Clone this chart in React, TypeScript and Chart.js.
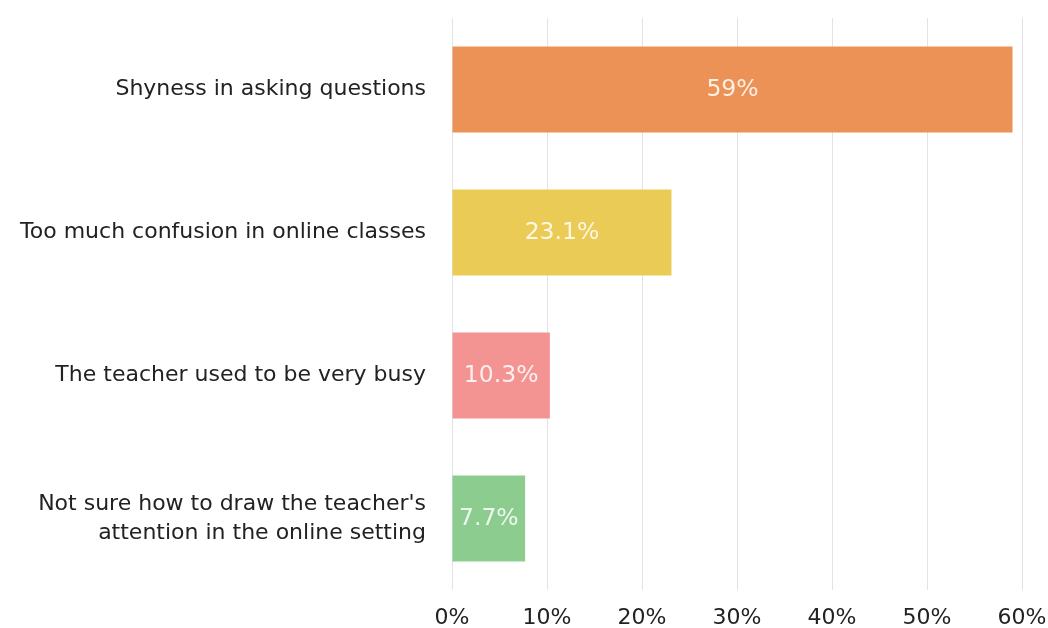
import React, { useEffect, useRef } from "react";
import { Chart, registerables } from "chart.js";

Chart.register(...registerables);

const categories: (string | string[])[] = [
  "Shyness in asking questions",
  "Too much confusion in online classes",
  "The teacher used to be very busy",
  ["Not sure how to draw the teacher's", "attention in the online setting"],
];
const values = [59, 23.1, 10.3, 7.7];
const valueLabels = ["59%", "23.1%", "10.3%", "7.7%"];
const barColors = ["#EC9256", "#E9CB55", "#F39392", "#8CCC8E"];
const xTicks = [0, 10, 20, 30, 40, 50, 60];

const FONT = "'DejaVu Sans', sans-serif";

const valueLabelPlugin = {
  id: "valueLabels",
  afterDatasetsDraw(chart: any) {
    const ctx = chart.ctx;
    const meta = chart.getDatasetMeta(0);
    ctx.save();
    ctx.font = `23.5px ${FONT}`;
    ctx.fillStyle = "rgba(255,255,255,0.85)";
    ctx.textAlign = "center";
    ctx.textBaseline = "middle";
    meta.data.forEach((bar: any, i: number) => {
      const cx = (bar.x + bar.base) / 2;
      ctx.fillText(valueLabels[i], cx, bar.y);
    });
    ctx.restore();
  },
};

export default function App() {
  const ref = useRef<HTMLCanvasElement>(null);
  useEffect(() => {
    if (!ref.current) return;
    const chart = new Chart(ref.current, {
      type: "bar",
      data: {
        labels: categories,
        datasets: [
          {
            data: values,
            backgroundColor: barColors,
            borderWidth: 0,
            categoryPercentage: 0.6,
            barPercentage: 1,
          },
        ],
      },
      options: {
        indexAxis: "y",
        animation: false,
        responsive: false,
        maintainAspectRatio: false,
        layout: { padding: { top: 18, right: 26, left: 0, bottom: 0 } },
        plugins: {
          legend: { display: false },
          tooltip: { enabled: false },
          title: { display: false },
        },
        scales: {
          x: {
            min: 0,
            max: 60,
            afterBuildTicks: (scale: any) => {
              scale.ticks = xTicks.map((v) => ({ value: v }));
            },
            afterFit: (scale: any) => {
              scale.height = 38;
              scale.paddingLeft = 0;
              scale.paddingRight = 0;
            },
            ticks: {
              callback: (v: any) => `${v}%`,
              color: "#222",
              font: { family: FONT, size: 22 },
              padding: 15,
              maxRotation: 0,
            },
            grid: { color: "#e2e3ea", lineWidth: 1, drawTicks: false },
            border: { display: false },
          },
          y: {
            afterFit: (scale: any) => {
              scale.width = 452;
              scale.paddingTop = 0;
              scale.paddingBottom = 0;
            },
            ticks: {
              color: "#222",
              font: { family: FONT, size: 22, lineHeight: 1.3 },
              padding: 26,
            },
            grid: { display: false, drawTicks: false },
            border: { display: false },
          },
        },
      },
      plugins: [valueLabelPlugin],
    });
    return () => chart.destroy();
  }, []);
  return (
    <div style={{ position: "fixed", left: 0, top: 0, width: 1048, height: 628, background: "#fff" }}>
      <canvas ref={ref} width={1048} height={628} style={{ display: "block" }} />
    </div>
  );
}
